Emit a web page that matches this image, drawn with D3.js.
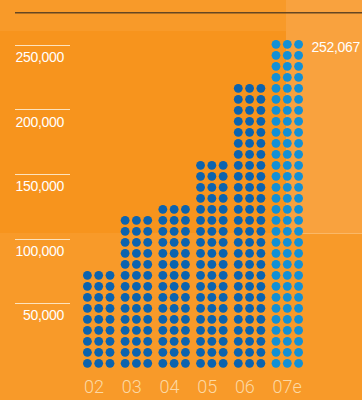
<!DOCTYPE html>
<html>
<head>
<meta charset="utf-8">
<script src="https://cdn.jsdelivr.net/npm/d3@7/dist/d3.min.js"></script>
<style>
  html, body { margin: 0; padding: 0; background: #F7941D; }
  svg { display: block; }
</style>
</head>
<body>
<script>
// Yearly totals, one dot column per year
const years = ["02", "03", "04", "05", "06", "07e"];
const totals = [76000, 120000, 127000, 163000, 221000, 252067];
const highlightYear = "07e";
const tickValues = [50000, 100000, 150000, 200000, 250000];
const tickLabels = ["50,000", "100,000", "150,000", "200,000", "250,000"];
const calloutLabel = "252,067";

const W = 362, H = 400;
const svg = d3.select("body").append("svg").attr("width", W).attr("height", H);

// Background panels
svg.append("rect").attr("x", 0).attr("y", 0).attr("width", W).attr("height", H).attr("fill", "#F7941D");
svg.append("rect").attr("x", 0).attr("y", 0).attr("width", 286).attr("height", 31).attr("fill", "#F89A29");
svg.append("rect").attr("x", 0).attr("y", 233).attr("width", W).attr("height", H - 233).attr("fill", "#F89A29");
svg.append("rect").attr("x", 286).attr("y", 0).attr("width", W - 286).attr("height", 233).attr("fill", "#F9A23E");
svg.append("line").attr("x1", 302).attr("x2", W).attr("y1", 233.5).attr("y2", 233.5)
  .attr("stroke", "#FBB866").attr("stroke-width", 1);

// Top rule
svg.append("line").attr("x1", 15).attr("x2", W).attr("y1", 12.8).attr("y2", 12.8)
  .attr("stroke", "#654622").attr("stroke-width", 1.4);

const y = d3.scaleLinear().domain([0, 250000]).range([367.5, 45]);
const x = d3.scalePoint().domain(years).range([98.7, 287.3]);

// Y ticks: short rule with the label underneath
const ticks = svg.append("g");
tickValues.forEach((v, i) => {
  ticks.append("line")
    .attr("x1", 15).attr("x2", 70)
    .attr("y1", Math.round(y(v)) + 0.5).attr("y2", Math.round(y(v)) + 0.5)
    .attr("stroke", "#FDE3BD").attr("stroke-width", 1);
  ticks.append("text")
    .attr("x", 64).attr("y", y(v) + 17)
    .attr("text-anchor", "end")
    .attr("fill", "#FFFFFF")
    .style("font-family", "'Liberation Sans', Arial, sans-serif")
    .style("font-size", "14px")
    .style("letter-spacing", "-0.3px")
    .text(tickLabels[i]);
});

// Dot columns: 3 dots wide, rows stacked up to the value
const rowStep = 11, colStep = 11.3, r = 4.4;
const dots = [];
years.forEach((yr, i) => {
  const h = y(0) - y(totals[i]);
  const rows = Math.round(h / rowStep);
  for (let rI = 0; rI < rows; rI++) {
    for (let c = 0; c < 3; c++) {
      dots.push({ yr, cx: x(yr) + (c - 1) * colStep, cy: y(0) - 4.2 - rI * rowStep });
    }
  }
});
svg.append("g").selectAll("circle").data(dots).join("circle")
  .attr("cx", d => d.cx).attr("cy", d => d.cy).attr("r", r)
  .attr("fill", d => d.yr === highlightYear ? "#1290D6" : "#0B63AF");

// Year labels, aligned to the left edge of each column
svg.append("g").selectAll("text").data(years).join("text")
  .attr("x", d => x(d) - colStep - r + 1)
  .attr("y", 393)
  .attr("fill", "#FCD9A4")
  .style("font-family", "Roboto, sans-serif")
  .style("font-weight", 300)
  .style("font-size", "18px")
  .text(d => d);

// Callout for the estimate
svg.append("text")
  .attr("x", 311.5).attr("y", 51.7)
  .attr("fill", "#FFFFFF")
  .style("font-family", "'Liberation Sans', Arial, sans-serif")
  .style("font-size", "14px")
  .style("letter-spacing", "-0.3px")
  .text(calloutLabel);
</script>
</body>
</html>
